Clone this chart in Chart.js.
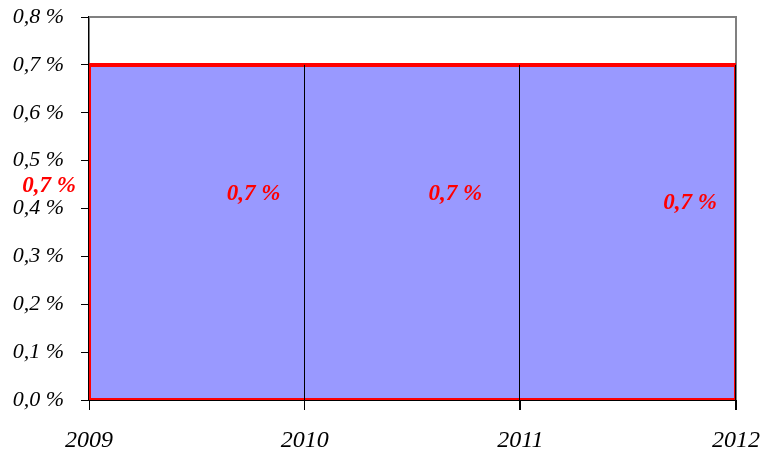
<!DOCTYPE html>
<html>
<head>
<meta charset="utf-8">
<script src="https://cdn.jsdelivr.net/npm/chart.js@4/dist/chart.umd.min.js"></script>
<style>
html,body{margin:0;padding:0;background:#fff;}
#wrap{width:761px;height:459px;}
</style>
</head>
<body>
<div id="wrap"><canvas id="c" width="761" height="459"></canvas></div>
<script>
const years = [2009, 2010, 2011, 2012];
const values = [0.7, 0.7, 0.7, 0.7];
const yMin = 0, yMax = 0.8, yStep = 0.1;
const dataLabels = values.map(v => v.toFixed(1).replace('.', ',') + ' %');

const last = years.length - 1;
const points = years.map((x, i) => ({x: x, y: values[i]}));
const outline = [{x: years[0], y: 0}]
  .concat(points)
  .concat([{x: years[last], y: 0}, {x: years[0], y: 0}]);

const labelOffsets = [[-40, 121], [-51, 129], [-65, 129], [-46, 138]];

const decor = {
  id: 'decor',
  beforeDatasetsDraw(chart) {
    const a = chart.chartArea, ctx = chart.ctx;
    ctx.save();
    ctx.strokeStyle = '#808080';
    ctx.lineWidth = 2;
    ctx.beginPath();
    ctx.moveTo(a.left, a.top);
    ctx.lineTo(a.right, a.top);
    ctx.lineTo(a.right, a.bottom);
    ctx.stroke();
    ctx.restore();
  },
  afterDatasetsDraw(chart) {
    const ctx = chart.ctx, xs = chart.scales.x, ys = chart.scales.y;
    ctx.save();
    ctx.strokeStyle = '#000';
    ctx.lineWidth = 1;
    for (let i = 1; i < years.length; i++) {
      const x = Math.round(xs.getPixelForValue(years[i])) - 0.5;
      ctx.beginPath();
      ctx.moveTo(x, ys.getPixelForValue(values[i]));
      ctx.lineTo(x, ys.getPixelForValue(0) + 10);
      ctx.stroke();
    }
    ctx.fillStyle = '#ff0000';
    ctx.font = 'italic bold 23px "Liberation Serif", "Times New Roman", serif';
    ctx.textAlign = 'center';
    ctx.textBaseline = 'middle';
    for (let i = 0; i < years.length; i++) {
      const px = xs.getPixelForValue(years[i]);
      const py = ys.getPixelForValue(values[i]);
      ctx.fillText(dataLabels[i], px + labelOffsets[i][0], py + labelOffsets[i][1]);
    }
    ctx.restore();
  }
};

new Chart(document.getElementById('c'), {
  type: 'line',
  data: {
    datasets: [{
      data: outline,
      borderColor: '#ff0000',
      borderWidth: 4,
      fill: false,
      tension: 0,
      pointRadius: 0,
      borderJoinStyle: 'miter',
      order: 0
    }, {
      data: points,
      borderWidth: 0,
      borderColor: 'rgba(0,0,0,0)',
      backgroundColor: '#9999ff',
      fill: 'origin',
      tension: 0,
      pointRadius: 0,
      order: 1
    }]
  },
  options: {
    responsive: false,
    animation: false,
    layout: {padding: {top: 17, right: 25, bottom: 0, left: 0}},
    plugins: {legend: {display: false}, tooltip: {enabled: false}, filler: {drawTime: 'beforeDatasetsDraw'}},
    scales: {
      x: {
        type: 'linear',
        min: years[0],
        max: years[last],
        afterFit(s) { s.height = 59; s.paddingLeft = 0; s.paddingRight = 0; },
        ticks: {
          stepSize: 1,
          padding: 16,
          color: '#000',
          font: {family: '"Liberation Serif", "Times New Roman", serif', size: 24, style: 'italic'},
          callback: v => String(v)
        },
        grid: {drawOnChartArea: false, drawTicks: true, tickLength: 10, color: '#000', lineWidth: 1},
        border: {display: true, color: '#000', width: 1}
      },
      y: {
        min: yMin,
        max: yMax,
        afterFit(s) { s.width = 89; s.paddingTop = 0; s.paddingBottom = 0; },
        ticks: {
          stepSize: yStep,
          padding: 17,
          color: '#000',
          font: {family: '"Liberation Serif", "Times New Roman", serif', size: 22, style: 'italic'},
          callback: v => v.toFixed(1).replace('.', ',') + ' %'
        },
        grid: {drawOnChartArea: false, drawTicks: true, tickLength: 8, color: '#000', lineWidth: 1},
        border: {display: true, color: '#000', width: 1.5}
      }
    }
  },
  plugins: [decor]
});
</script>
</body>
</html>
